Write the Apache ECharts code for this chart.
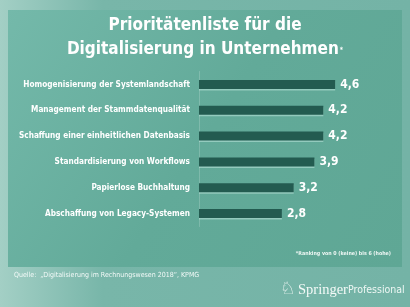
<!DOCTYPE html>
<html lang="de">
<head>
  <meta charset="UTF-8">
  <script src="https://cdn.jsdelivr.net/npm/echarts@6/dist/echarts.min.js"></script>
  <style>
    * { margin: 0; padding: 0; }
    html, body { width: 410px; height: 307px; background: #74b3a6; }
    #chart { width: 410px; height: 307px; }
  </style>
</head>
<body>
<div id="chart"></div>
<script>
  var categories = [
    'Homogenisierung der Systemlandschaft',
    'Management der Stammdatenqualität',
    'Schaffung einer einheitlichen Datenbasis',
    'Standardisierung von Workflows',
    'Papierlose Buchhaltung',
    'Abschaffung von Legacy-Systemen'
  ]
  var values = [4.6, 4.2, 4.2, 3.9, 3.2, 2.8]

  var narrow = "'Liberation Sans Narrow', 'DejaVu Sans Condensed', 'Noto Sans', sans-serif"

  var chart = echarts.init(document.getElementById('chart'))
  var option = {
    animation: false,
    backgroundColor: {
      type: 'linear', x: 0, y: 0, x2: 1, y2: 0,
      colorStops: [
        { offset: 0, color: '#a3cfc5' },
        { offset: 0.25, color: '#78b6a9' },
        { offset: 1, color: '#74b3a6' }
      ]
    },
    graphic: [
      {
        type: 'rect',
        z: -10,
        shape: { x: 8, y: 10, width: 394, height: 257 },
        style: {
          fill: {
            type: 'linear', x: 0, y: 0, x2: 1, y2: 1,
            colorStops: [
              { offset: 0, color: '#74b9aa' },
              { offset: 0.5, color: '#62aa99' },
              { offset: 1, color: '#5fa795' }
            ]
          }
        }
      },
      {
        type: 'text',
        right: 19,
        top: 251,
        style: {
          text: '*Ranking von 0 (keine) bis 6 (hohe)',
          fill: '#eef7f4',
          font: 'bold 5.3px ' + narrow
        }
      },
      {
        type: 'text',
        left: 14,
        top: 272,
        style: {
          text: 'Quelle:  „Digitalisierung im Rechnungswesen 2018“, KPMG',
          fill: '#f2f9f7',
          font: '7px ' + narrow
        }
      },
      {
        type: 'text',
        left: 280,
        top: 281,
        style: {
          text: '\u2658',
          fill: '#f4faf8',
          font: '17px "DejaVu Sans", sans-serif'
        }
      },
      {
        type: 'text',
        left: 298,
        top: 283,
        style: {
          text: 'Springer',
          fill: '#f4faf8',
          font: '14.5px "Liberation Serif", serif'
        }
      },
      {
        type: 'text',
        left: 348,
        top: 285,
        style: {
          text: 'Professional',
          fill: '#eef7f4',
          font: '10.5px ' + narrow
        }
      }
    ],
    title: {
      text: 'Prioritätenliste für die\nDigitalisierung in Unternehmen{s|*}',
      left: 'center',
      top: 9,
      textStyle: {
        color: '#ffffff',
        fontSize: 17,
        fontWeight: 'bold',
        fontFamily: narrow,
        lineHeight: 24,
        align: 'center',
        rich: {
          s: {
            color: '#ffffff',
            fontSize: 7,
            fontWeight: 'bold',
            fontFamily: narrow,
            padding: [0, 0, 0, 1]
          }
        }
      }
    },
    grid: {
      left: 199,
      top: 71.5,
      width: 148,
      height: 155,
      outerBoundsMode: 'none',
      containLabel: false
    },
    xAxis: {
      type: 'value',
      min: 0,
      max: 5,
      show: false
    },
    yAxis: {
      type: 'category',
      inverse: true,
      data: categories,
      axisTick: { show: false },
      axisLine: { show: true, lineStyle: { color: 'rgba(255,255,255,0.18)', width: 1 } },
      axisLabel: {
        color: '#ffffff',
        fontWeight: 'bold',
        fontSize: 8.2,
        fontFamily: narrow,
        margin: 9
      }
    },
    series: [
      {
        type: 'bar',
        data: values,
        barWidth: 9,
        itemStyle: {
          color: '#235b50',
          shadowColor: 'rgba(190,230,220,0.55)',
          shadowOffsetY: 1.5,
          shadowBlur: 0
        },
        label: {
          show: true,
          position: 'right',
          distance: 5,
          color: '#ffffff',
          fontWeight: 'bold',
          fontSize: 12,
          fontFamily: narrow,
          formatter: function (p) { return String(p.value).replace('.', ',') }
        }
      }
    ]
  }
  chart.setOption(option)
</script>
</body>
</html>
